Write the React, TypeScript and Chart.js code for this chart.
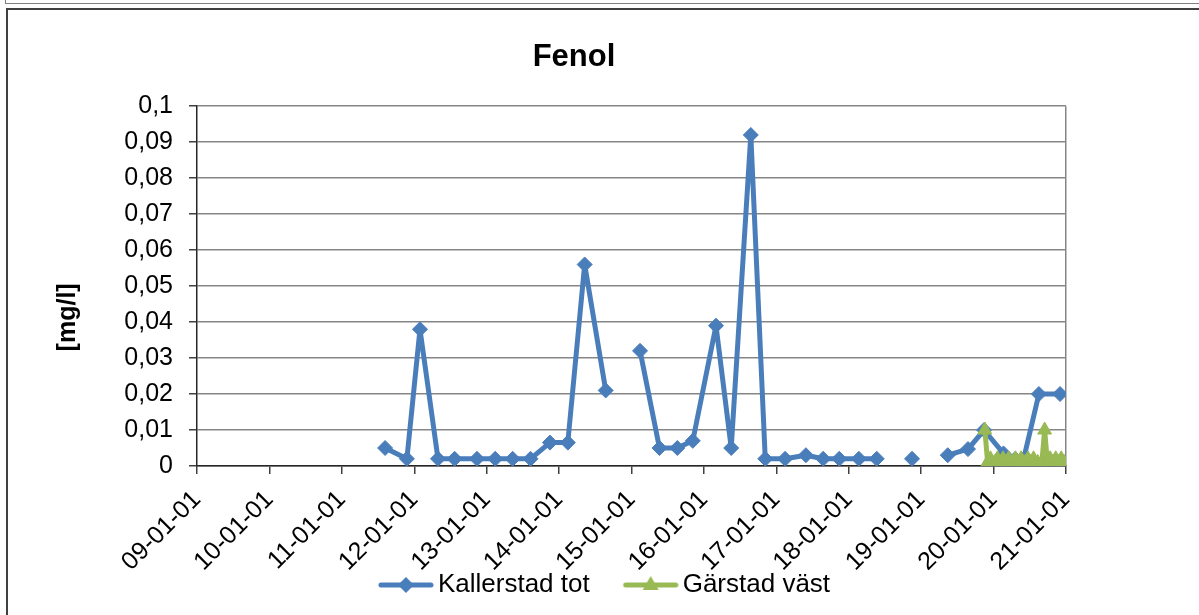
import React, { useEffect, useRef } from 'react';
import { Chart, registerables } from 'chart.js';

Chart.register(...registerables);

// ---- Data ----
const kallerstadDates = [
  '2011-08-07', '2011-11-25', '2012-01-30', '2012-04-30', '2012-07-23', '2012-11-13',
  '2013-02-13', '2013-05-12', '2013-08-10', '2013-11-16', '2014-02-14', '2014-05-10',
  '2014-08-24', '2014-11-15', '2015-02-13', '2015-05-22', '2015-08-20', '2015-11-06',
  '2016-03-02', '2016-05-18', '2016-08-25', '2016-11-06', '2017-02-14', '2017-05-30',
  '2017-08-25', '2017-11-14', '2018-02-21', '2018-05-22', '2018-08-20', '2018-11-16',
  '2019-02-15', '2019-05-15', '2019-08-25', '2019-11-14', '2020-02-20', '2020-04-20',
  '2020-06-01', '2020-08-17', '2020-12-02',
];
const kallerstadValues: (number | null)[] = [
  0.005, 0.002, 0.038, 0.002, 0.002, 0.002,
  0.002, 0.002, 0.002, 0.0065, 0.0065, 0.056,
  0.021, null, 0.032, 0.005, 0.005, 0.007,
  0.039, 0.005, 0.092, 0.002, 0.002, 0.003,
  0.002, 0.002, 0.002, 0.002, null, 0.002,
  null, 0.003, 0.0047, 0.01, 0.0035, 0.002,
  0.002, 0.02, 0.02,
];

const garstadDates = [
  '2019-11-18', '2019-12-02', '2019-12-16', '2020-01-07', '2020-01-21', '2020-02-04',
  '2020-02-18', '2020-03-03', '2020-03-17', '2020-04-07', '2020-04-21', '2020-05-05',
  '2020-05-19', '2020-06-09', '2020-06-23', '2020-07-07', '2020-07-21', '2020-08-11',
  '2020-09-01', '2020-09-15', '2020-09-29', '2020-10-13', '2020-10-27', '2020-11-10',
  '2020-11-24', '2020-12-08', '2020-12-22', '2021-01-01',
];
const garstadValues = [
  0.01, 0.001, 0.002, 0.001, 0.002, 0.001,
  0.002, 0.001, 0.002, 0.001, 0.002, 0.001,
  0.002, 0.001, 0.002, 0.001, 0.002, 0.001,
  0.001, 0.01, 0.001, 0.002, 0.001, 0.002,
  0.001, 0.002, 0.001, 0.0005,
];

const xTickLabels = [
  '09-01-01', '10-01-01', '11-01-01', '12-01-01', '13-01-01', '14-01-01', '15-01-01',
  '16-01-01', '17-01-01', '18-01-01', '19-01-01', '20-01-01', '21-01-01',
];
const yTickLabels = [
  '0', '0,01', '0,02', '0,03', '0,04', '0,05', '0,06', '0,07', '0,08', '0,09', '0,1',
];

const seriesNames = ['Kallerstad tot', 'Gärstad väst'];
const seriesColors = ['#4A7EBB', '#98B954'];

function toYear(d: string): number {
  const y = +d.slice(0, 4);
  const t = Date.UTC(y, +d.slice(5, 7) - 1, +d.slice(8, 10));
  const s = Date.UTC(y, 0, 1);
  const e = Date.UTC(y + 1, 0, 1);
  return y + (t - s) / (e - s);
}

function makeLegendImage(color: string, marker: 'diamond' | 'triangle'): HTMLCanvasElement {
  const c = document.createElement('canvas');
  c.width = 88;
  c.height = 22;
  const g = c.getContext('2d')!;
  const m = 32;
  const cy = 11;
  g.strokeStyle = color;
  g.fillStyle = color;
  g.lineWidth = 5;
  g.lineCap = 'round';
  g.beginPath();
  g.moveTo(m + 3, cy);
  g.lineTo(m + 53, cy);
  g.stroke();
  const cx = m + 28;
  g.beginPath();
  if (marker === 'diamond') {
    g.moveTo(cx, cy - 8);
    g.lineTo(cx + 8, cy);
    g.lineTo(cx, cy + 8);
    g.lineTo(cx - 8, cy);
  } else {
    g.moveTo(cx, cy - 9);
    g.lineTo(cx + 8, cy + 5);
    g.lineTo(cx - 8, cy + 5);
  }
  g.closePath();
  g.fill();
  return c;
}

export default function App() {
  const ref = useRef<HTMLCanvasElement | null>(null);

  useEffect(() => {
    document.body.style.margin = '0';
    const canvas = ref.current;
    if (!canvas) return;

    Chart.defaults.font.family = "'Liberation Sans', Arial, sans-serif";
    Chart.defaults.color = '#000';

    const legendImages = [
      makeLegendImage(seriesColors[0], 'diamond'),
      makeLegendImage(seriesColors[1], 'triangle'),
    ];

    const boxShift = {
      id: 'boxShift',
      afterLayout(chart: any) {
        if (chart.titleBlock) {
          chart.titleBlock.left += 16.5;
          chart.titleBlock.right += 16.5;
        }
        if (chart.legend) {
          chart.legend.left += 35;
          chart.legend.right += 35;
          chart.legend.top += 2;
          chart.legend.bottom += 2;
        }
        if (chart.scales && chart.scales.x) {
          chart.scales.x.bottom = chart.height;
        }
      },
    };

    const chart = new Chart(canvas, {
      type: 'line',
      data: {
        datasets: [
          {
            label: seriesNames[0],
            data: kallerstadDates.map((d, i) => ({ x: toYear(d), y: kallerstadValues[i] })),
            borderColor: seriesColors[0],
            backgroundColor: seriesColors[0],
            borderWidth: 5,
            borderJoinStyle: 'round',
            borderCapStyle: 'round',
            pointStyle: 'rectRot',
            pointRadius: 7.5,
            pointBorderWidth: 1,
            spanGaps: false,
            tension: 0,
            order: 1,
          },
          {
            label: seriesNames[1],
            data: garstadDates.map((d, i) => ({ x: toYear(d), y: garstadValues[i] })),
            borderColor: seriesColors[1],
            backgroundColor: seriesColors[1],
            borderWidth: 5,
            borderJoinStyle: 'round',
            borderCapStyle: 'round',
            pointStyle: 'triangle',
            pointRadius: 8,
            pointBorderWidth: 1,
            tension: 0,
            order: 0,
          },
        ] as any,
      },
      options: {
        responsive: false,
        animation: false,
        events: [],
        layout: { padding: { left: 41, right: 74, top: 0, bottom: 9 } },
        plugins: {
          tooltip: { enabled: false },
          title: {
            display: true,
            text: 'Fenol',
            color: '#000',
            font: { size: 31, weight: 'bold' },
            padding: { top: 29, bottom: 30 },
          },
          legend: {
            position: 'bottom',
            labels: {
              usePointStyle: true,
              pointStyleWidth: 70,
              padding: 10,
              color: '#000',
              font: { size: 26 },
              generateLabels: (ch: any) =>
                ch.data.datasets.map((ds: any, i: number) => ({
                  text: ds.label,
                  fillStyle: ds.borderColor,
                  strokeStyle: ds.borderColor,
                  lineWidth: 0,
                  pointStyle: legendImages[i],
                  hidden: false,
                  datasetIndex: i,
                  fontColor: '#000',
                })),
            },
          },
        },
        scales: {
          x: {
            type: 'linear',
            min: 2009,
            max: 2021,
            afterFit: (s: any) => {
              s.height = 94;
            },
            ticks: {
              stepSize: 1,
              autoSkip: false,
              maxRotation: 45,
              minRotation: 45,
              padding: 11,
              font: { size: 25 },
              color: '#000',
              callback: (v: any) => xTickLabels[Math.round(Number(v) - 2009)] ?? '',
            },
            grid: {
              drawOnChartArea: true,
              color: (c: any) => (c.tick && Math.round(c.tick.value) === 2021 ? '#868686' : 'rgba(0,0,0,0)'),
              tickColor: '#404040',
              tickLength: 8,
              lineWidth: 1.5,
            },
            border: { color: '#262626', width: 1.5 },
          },
          y: {
            min: 0,
            max: 0.1,
            afterFit: (s: any) => {
              s.width = 148;
            },
            ticks: {
              stepSize: 0.01,
              padding: 16,
              font: { size: 25 },
              color: '#000',
              callback: (v: any) => yTickLabels[Math.round(Number(v) / 0.01)] ?? '',
            },
            grid: {
              color: '#868686',
              tickColor: '#404040',
              tickLength: 8,
              lineWidth: 1.5,
            },
            border: { color: '#262626', width: 1.5 },
            title: {
              display: true,
              text: '[mg/l]         ',
              color: '#000',
              font: { size: 25, weight: 'bold' },
              padding: { top: 4, bottom: 4 },
            },
          },
        },
      },
      plugins: [boxShift],
    } as any);

    return () => chart.destroy();
  }, []);

  return (
    <div style={{ position: 'relative', width: 1199, height: 615, overflow: 'hidden', background: '#fff' }}>
      <div
        style={{
          position: 'absolute', left: 5, top: -20, width: 1300, height: 22,
          border: '1px solid #7f7f7f',
        }}
      />
      <div
        style={{
          position: 'absolute', left: 6, top: 8, width: 1300, height: 700,
          border: '2px solid #404040',
        }}
      />
      <canvas ref={ref} width={1132} height={605} style={{ position: 'absolute', left: 8, top: 10 }} />
    </div>
  );
}
